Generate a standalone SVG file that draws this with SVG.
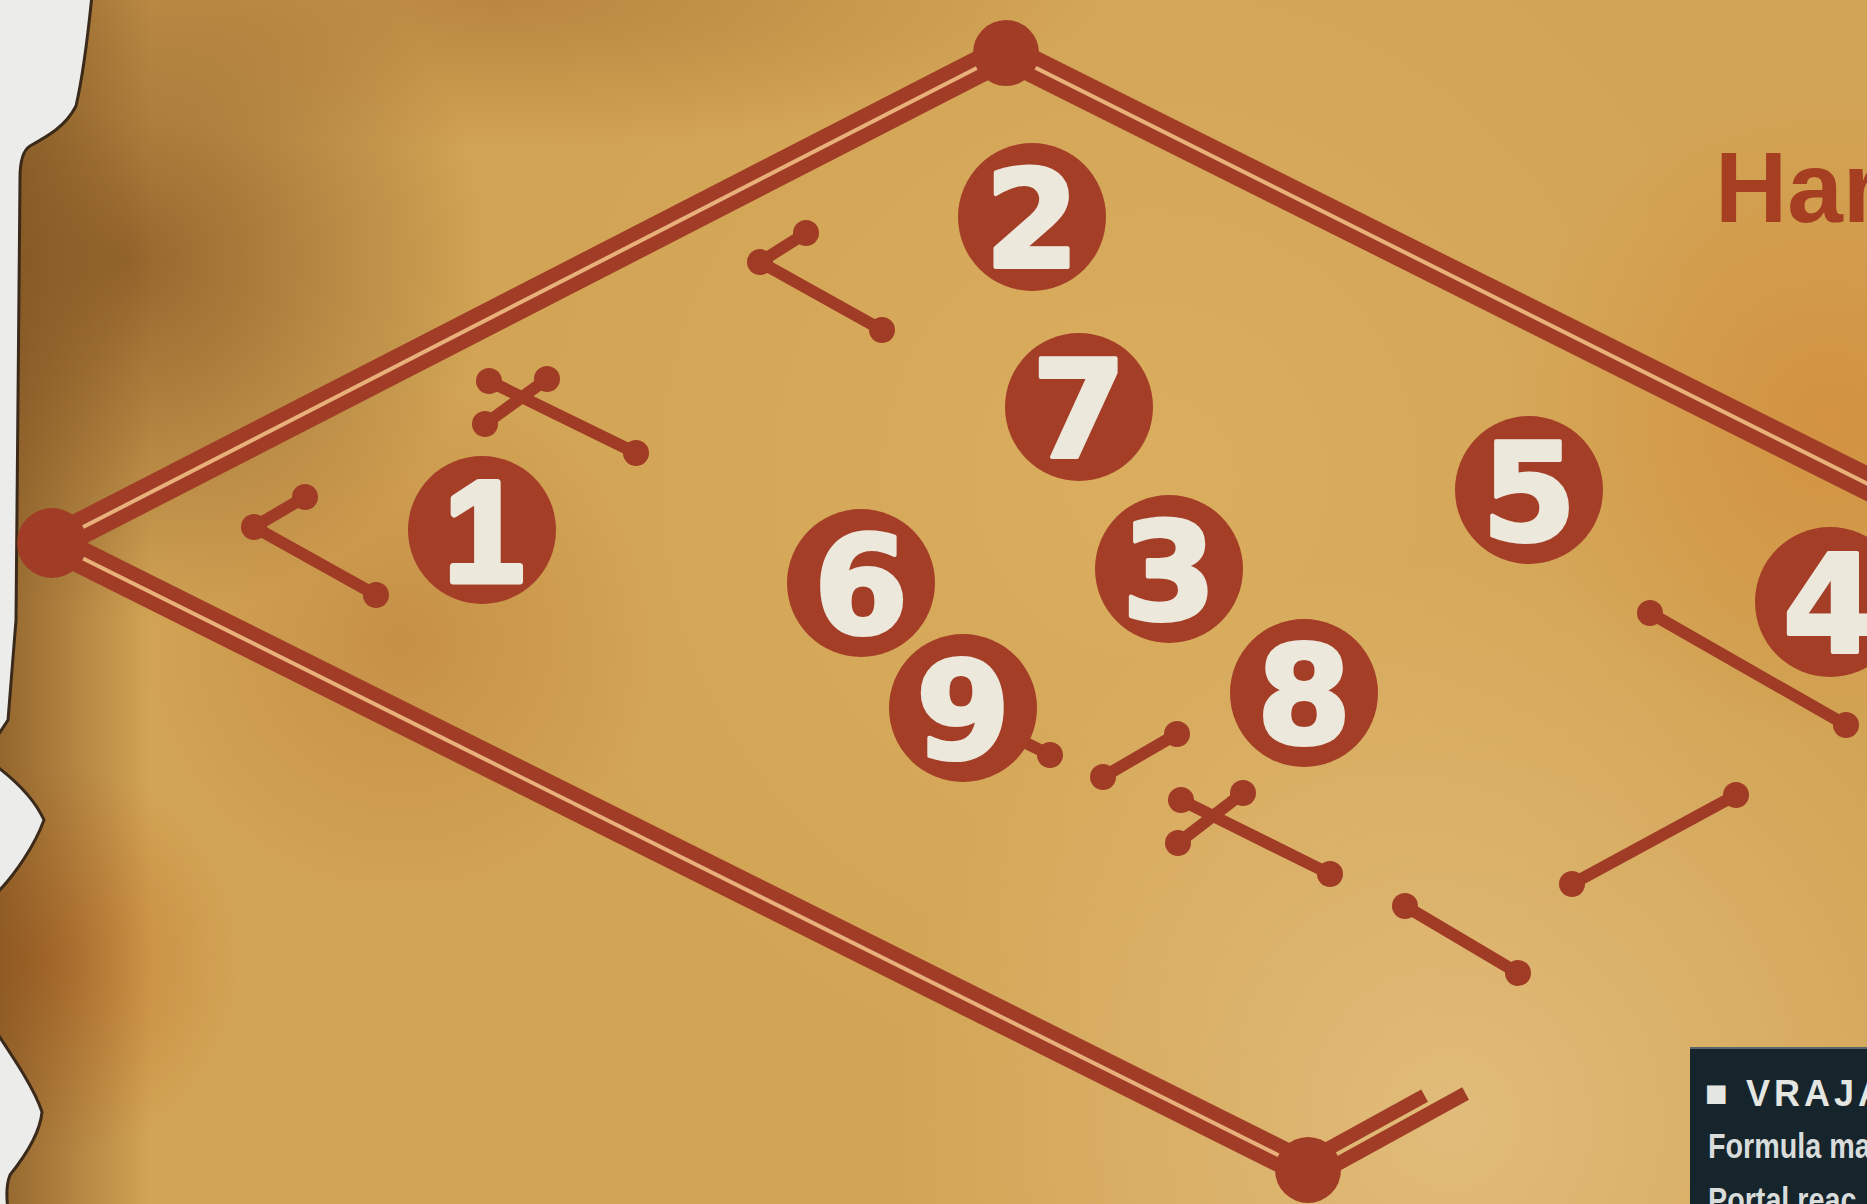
<svg xmlns="http://www.w3.org/2000/svg" width="1867" height="1204" viewBox="0 0 1867 1204">
<defs>
<style>
.band{stroke:#a13c26;stroke-width:32;fill:none;stroke-linecap:butt}
.stripe{stroke:#e8b07a;stroke-width:4;fill:none}
.stub{stroke:#a13c26;stroke-width:14;fill:none;stroke-linecap:butt}
.corner{fill:#a13c26}
.bone{stroke:#a03b25;stroke-width:12;fill:none;stroke-linecap:round}
.knob{fill:#a03b25}
.mk{fill:#a43e27}
.num{font-family:"DejaVu Sans","Liberation Sans",sans-serif;font-weight:bold;font-size:136px;fill:#ece8dc;stroke:#ece8dc;stroke-width:4;stroke-linejoin:round;text-anchor:middle}
.page{fill:#ecedeb;stroke:#3b2a1a;stroke-width:3}
</style>
<radialGradient id="gTL" cx="130" cy="260" r="360" gradientUnits="userSpaceOnUse">
<stop offset="0" stop-color="#7a4c1c" stop-opacity="0.7"/><stop offset="1" stop-color="#7a4c1c" stop-opacity="0"/>
</radialGradient>
<linearGradient id="gL" x1="0" y1="0" x2="150" y2="0" gradientUnits="userSpaceOnUse">
<stop offset="0" stop-color="#6a3d14" stop-opacity="0.6"/><stop offset="1" stop-color="#6a3d14" stop-opacity="0"/>
</linearGradient>
<radialGradient id="gT" cx="500" cy="0" r="600" gradientTransform="matrix(1 0 0 0.25 0 0)" gradientUnits="userSpaceOnUse">
<stop offset="0" stop-color="#9a6226" stop-opacity="0.45"/><stop offset="1" stop-color="#9a6226" stop-opacity="0"/>
</radialGradient>
<radialGradient id="gC" cx="1150" cy="480" r="620" gradientUnits="userSpaceOnUse">
<stop offset="0" stop-color="#e0b466" stop-opacity="0.6"/><stop offset="1" stop-color="#e0b466" stop-opacity="0"/>
</radialGradient>
<radialGradient id="gBR" cx="1450" cy="1120" r="560" gradientUnits="userSpaceOnUse">
<stop offset="0" stop-color="#e8c68a" stop-opacity="0.7"/><stop offset="1" stop-color="#e8c68a" stop-opacity="0"/>
</radialGradient>
<radialGradient id="gR" cx="1830" cy="420" r="320" gradientUnits="userSpaceOnUse">
<stop offset="0" stop-color="#d2802c" stop-opacity="0.5"/><stop offset="1" stop-color="#d2802c" stop-opacity="0"/>
</radialGradient>
<radialGradient id="gM" cx="400" cy="640" r="260" gradientUnits="userSpaceOnUse">
<stop offset="0" stop-color="#b06c2c" stop-opacity="0.35"/><stop offset="1" stop-color="#b06c2c" stop-opacity="0"/>
</radialGradient>
<radialGradient id="gLL" cx="40" cy="960" r="200" gradientUnits="userSpaceOnUse">
<stop offset="0" stop-color="#b8601c" stop-opacity="0.55"/><stop offset="1" stop-color="#b8601c" stop-opacity="0"/>
</radialGradient>
</defs>

<g id="background">
<rect x="0" y="0" width="1867" height="1204" fill="#d2a455"/>
<rect x="0" y="0" width="1867" height="1204" fill="url(#gC)"/>
<rect x="0" y="0" width="1867" height="1204" fill="url(#gBR)"/>
<rect x="0" y="0" width="1867" height="1204" fill="url(#gR)"/>
<rect x="0" y="0" width="1867" height="1204" fill="url(#gM)"/>
<rect x="0" y="0" width="1867" height="1204" fill="url(#gLL)"/>
<rect x="0" y="0" width="1867" height="1204" fill="url(#gT)"/>
<rect x="0" y="0" width="1867" height="1204" fill="url(#gTL)"/>
<rect x="0" y="0" width="1867" height="1204" fill="url(#gL)"/>
<path class="page" d="M-5,-5 L92,-5 C88,35 82,80 76,106 C66,126 48,136 30,146 C22,151 20,163 20,178 L16,620 L8,720 L-5,740 Z"/>
<path class="page" d="M-5,765 C15,780 35,800 44,820 C35,845 15,875 -5,895 Z"/>
<path class="page" d="M-5,1030 C15,1060 35,1090 42,1112 C40,1135 22,1160 10,1175 C6,1185 6,1195 8,1210 L-5,1210 Z"/>
</g>

<g id="connectors">
<g id="frame">
<line class="band" x1="52" y1="543" x2="1006" y2="53"/>
<line class="band" x1="1006" y1="53" x2="1906" y2="503"/>
<line class="band" x1="52" y1="543" x2="1308" y2="1170"/>
<line class="stripe" x1="52" y1="543" x2="1006" y2="53"/>
<line class="stripe" x1="1006" y1="53" x2="1906" y2="503"/>
<line class="stripe" x1="52" y1="543" x2="1308" y2="1170"/>
<line class="stub" x1="1303.7" y1="1162.1" x2="1424.6" y2="1095.6"/>
<line class="stub" x1="1312.3" y1="1177.9" x2="1465.6" y2="1093.5"/>
<circle class="corner" cx="52" cy="543" r="35"/>
<circle class="corner" cx="1006" cy="53" r="33"/>
<circle class="corner" cx="1308" cy="1170" r="33"/>
</g>
<g id="bones">
<path class="bone" d="M305,497 L254,527 L376,595"/>
<circle class="knob" cx="305" cy="497" r="13"/><circle class="knob" cx="254" cy="527" r="13"/><circle class="knob" cx="376" cy="595" r="13"/>
<path class="bone" d="M489,381 L636,453 M547,379 L485,424"/>
<circle class="knob" cx="489" cy="381" r="13"/><circle class="knob" cx="636" cy="453" r="13"/><circle class="knob" cx="547" cy="379" r="13"/><circle class="knob" cx="485" cy="424" r="13"/>
<path class="bone" d="M806,233 L760,262 L882,330"/>
<circle class="knob" cx="806" cy="233" r="13"/><circle class="knob" cx="760" cy="262" r="13"/><circle class="knob" cx="882" cy="330" r="13"/>
<path class="bone" d="M990,725 L1050,755"/>
<circle class="knob" cx="1050" cy="755" r="13"/>
<path class="bone" d="M1103,777 L1177,734"/>
<circle class="knob" cx="1103" cy="777" r="13"/><circle class="knob" cx="1177" cy="734" r="13"/>
<path class="bone" d="M1181,800 L1330,874 M1243,793 L1178,843"/>
<circle class="knob" cx="1181" cy="800" r="13"/><circle class="knob" cx="1330" cy="874" r="13"/><circle class="knob" cx="1243" cy="793" r="13"/><circle class="knob" cx="1178" cy="843" r="13"/>
<path class="bone" d="M1650,613 L1846,725"/>
<circle class="knob" cx="1650" cy="613" r="13"/><circle class="knob" cx="1846" cy="725" r="13"/>
<path class="bone" d="M1572,884 L1736,795"/>
<circle class="knob" cx="1572" cy="884" r="13"/><circle class="knob" cx="1736" cy="795" r="13"/>
<path class="bone" d="M1405,906 L1518,973"/>
<circle class="knob" cx="1405" cy="906" r="13"/><circle class="knob" cx="1518" cy="973" r="13"/>
</g>
</g>

<g id="marker-1"><circle class="mk" cx="482" cy="530" r="74"/><text class="num" x="484" y="581" style="font-family:'Liberation Sans',Arial,sans-serif;font-size:142px;stroke-width:7px">1</text></g>
<g id="marker-2"><circle class="mk" cx="1032" cy="217" r="74"/><text class="num" x="1032" y="267">2</text></g>
<g id="marker-7"><circle class="mk" cx="1079" cy="407" r="74"/><text class="num" x="1079" y="457">7</text></g>
<g id="marker-5"><circle class="mk" cx="1529" cy="490" r="74"/><text class="num" x="1529" y="540">5</text></g>
<g id="marker-6"><circle class="mk" cx="861" cy="583" r="74"/><text class="num" x="861" y="633">6</text></g>
<g id="marker-3"><circle class="mk" cx="1169" cy="569" r="74"/><text class="num" x="1169" y="619">3</text></g>
<g id="marker-8"><circle class="mk" cx="1304" cy="693" r="74"/><text class="num" x="1304" y="743">8</text></g>
<g id="marker-9"><circle class="mk" cx="963" cy="708" r="74"/><text class="num" x="963" y="758">9</text></g>
<g id="marker-4"><circle class="mk" cx="1830" cy="602" r="75"/><text class="num" x="1830" y="652">4</text></g>

<g id="title">
<text x="1715" y="222" font-family="Liberation Sans, Arial, sans-serif" font-weight="bold" font-size="100" fill="#a63f22">Har</text>
</g>

<g id="infobox">
<rect x="1690" y="1047" width="180" height="160" fill="#16242c"/>
<line x1="1690" y1="1048" x2="1867" y2="1048" stroke="#5a666a" stroke-width="2"/>
<text x="1705" y="1106" font-family="Liberation Sans, DejaVu Sans, sans-serif" font-weight="bold" font-size="36" fill="#e4e6e2"><tspan font-size="38">■</tspan><tspan x="1746" letter-spacing="4">VRAJA</tspan></text>
<text transform="translate(1708,1158) scale(0.82,1)" font-family="Liberation Sans, sans-serif" font-weight="bold" font-size="35" fill="#d8dcda">Formula ma</text>
<text transform="translate(1708,1212) scale(0.82,1)" font-family="Liberation Sans, sans-serif" font-weight="bold" font-size="35" fill="#d8dcda">Portal reac</text>
</g>
</svg>
